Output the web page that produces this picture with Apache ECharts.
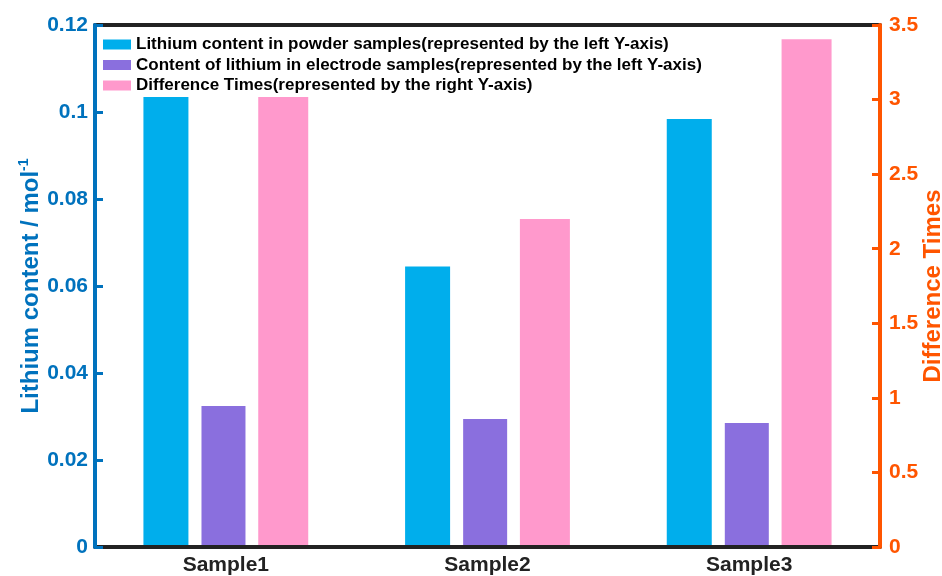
<!DOCTYPE html>
<html>
<head>
<meta charset="utf-8">
<script src="https://cdn.jsdelivr.net/npm/echarts@6/dist/echarts.min.js"></script>
<style>
  html, body { margin: 0; padding: 0; background: #fff; }
  #chart { width: 942px; height: 576px; }
</style>
</head>
<body>
<div id="chart"></div>
<script>
// Lithium content of powder vs. electrode samples, with the ratio between them
const categories = ['Sample1', 'Sample2', 'Sample3'];
const powderContent = [0.106, 0.0645, 0.0984];      // left axis, mol^-1
const electrodeContent = [0.0324, 0.0294, 0.0285];  // left axis, mol^-1
const differenceTimes = [3.28, 2.20, 3.405];        // right axis

const seriesNames = [
  'Lithium content in powder samples(represented by the left Y-axis)',
  'Content of lithium in electrode samples(represented by the left Y-axis)',
  'Difference Times(represented by the right Y-axis)'
];

const leftTicks = { min: 0, max: 0.12, interval: 0.02 };
const rightTicks = { min: 0, max: 3.5, interval: 0.5 };

const FONT = '"Liberation Sans", Arial, Helvetica, sans-serif';
const BLUE_AXIS = '#0072BD';
const ORANGE_AXIS = '#FF5500';
const DARK = '#222222';

const chart = echarts.init(document.getElementById('chart'), null, { renderer: 'canvas' });

const xAxisBase = {
  type: 'category',
  data: categories,
  z: 3,
  axisLine: { onZero: false, lineStyle: { color: DARK, width: 4 } },
  axisTick: { alignWithLabel: true, inside: true, length: 7, lineStyle: { color: DARK, width: 3 } },
  splitLine: { show: false }
};

chart.setOption({
  animation: false,
  backgroundColor: '#ffffff',
  textStyle: { fontFamily: FONT },
  grid: { left: 95, right: 62, top: 25, bottom: 29, containLabel: false, outerBoundsMode: 'none' },
  legend: {
    orient: 'vertical',
    left: 98,
    top: 31,
    padding: [5, 10, 3, 5],
    backgroundColor: '#ffffff',
    z: 5,
    icon: 'rect',
    itemWidth: 28,
    itemHeight: 10,
    itemGap: 3.5,
    selectedMode: false,
    textStyle: { fontFamily: FONT, fontSize: 17, fontWeight: 'bold', color: '#000', lineHeight: 17 },
    data: seriesNames
  },
  xAxis: [
    Object.assign({}, xAxisBase, {
      position: 'bottom',
      axisLabel: { color: DARK, fontSize: 21, fontWeight: 'bold', margin: 8, fontFamily: FONT }
    }),
    Object.assign({}, xAxisBase, {
      position: 'top',
      axisLabel: { show: false }
    })
  ],
  yAxis: [
    {
      type: 'value',
      position: 'left',
      min: leftTicks.min,
      max: leftTicks.max,
      interval: leftTicks.interval,
      z: 4,
      name: 'Lithium content / mol{sup|-1}',
      nameLocation: 'middle',
      nameRotate: 90,
      nameGap: 50,
      nameMoveOverlap: false,
      nameTextStyle: {
        color: BLUE_AXIS, fontSize: 24, fontWeight: 'bold', fontFamily: FONT, lineHeight: 28,
        rich: { sup: { color: BLUE_AXIS, fontSize: 14, fontWeight: 'bold', fontFamily: FONT, verticalAlign: 'top', lineHeight: 14 } }
      },
      axisLine: { show: true, onZero: false, lineStyle: { color: BLUE_AXIS, width: 4 } },
      axisTick: { show: true, inside: true, length: 8, lineStyle: { color: BLUE_AXIS, width: 3 } },
      axisLabel: { color: BLUE_AXIS, fontSize: 21, fontWeight: 'bold', margin: 7, fontFamily: FONT },
      splitLine: { show: false }
    },
    {
      type: 'value',
      position: 'right',
      min: rightTicks.min,
      max: rightTicks.max,
      interval: rightTicks.interval,
      z: 4,
      name: 'Difference Times',
      nameLocation: 'middle',
      nameRotate: 90,
      nameGap: 41,
      nameMoveOverlap: false,
      nameTextStyle: { color: ORANGE_AXIS, fontSize: 24, fontWeight: 'bold', fontFamily: FONT },
      axisLine: { show: true, onZero: false, lineStyle: { color: ORANGE_AXIS, width: 4 } },
      axisTick: { show: true, inside: true, length: 8, lineStyle: { color: ORANGE_AXIS, width: 3 } },
      axisLabel: { color: ORANGE_AXIS, fontSize: 21, fontWeight: 'bold', margin: 9, fontFamily: FONT },
      splitLine: { show: false }
    }
  ],
  series: [
    {
      name: seriesNames[0],
      type: 'bar',
      xAxisIndex: 0,
      yAxisIndex: 0,
      barWidth: 45,
      itemStyle: { color: '#00AEEC' },
      data: powderContent
    },
    {
      name: seriesNames[1],
      type: 'bar',
      xAxisIndex: 0,
      yAxisIndex: 0,
      barWidth: 44,
      itemStyle: { color: '#8A6FDE' },
      data: electrodeContent
    },
    {
      name: seriesNames[2],
      type: 'bar',
      xAxisIndex: 0,
      yAxisIndex: 1,
      barWidth: 50,
      barGap: '29%',
      itemStyle: { color: '#FF99CC' },
      data: differenceTimes
    }
  ]
});
</script>
</body>
</html>
